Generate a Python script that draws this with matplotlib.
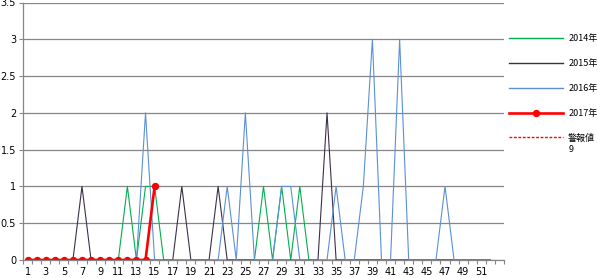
import matplotlib
matplotlib.use("Agg")
import matplotlib.pyplot as plt
from matplotlib.ticker import FixedLocator, FuncFormatter

weeks = list(range(1, 53))
s2014 = [0, 0, 0, 0, 0, 0, 0, 0, 0, 0,
         0, 1, 0, 1, 1, 0, 0, 0, 0, 0,
         0, 0, 0, 0, 0, 0, 1, 0, 1, 0,
         1, 0, 0, 0, 0, 0, 0, 0, 0, 0,
         0, 0, 0, 0, 0, 0, 0, 0, 0, 0,
         0, 0]
s2015 = [0, 0, 0, 0, 0, 0, 1, 0, 0, 0,
         0, 0, 0, 0, 0, 0, 0, 1, 0, 0,
         0, 1, 0, 0, 0, 0, 0, 0, 0, 0,
         0, 0, 0, 2, 0, 0, 0, 0, 0, 0,
         0, 0, 0, 0, 0, 0, 0, 0, 0, 0,
         0, 0]
s2016 = [0, 0, 0, 0, 0, 0, 0, 0, 0, 0,
         0, 0, 0, 2, 0, 0, 0, 0, 0, 0,
         0, 0, 1, 0, 2, 0, 0, 0, 1, 1,
         0, 0, 0, 0, 1, 0, 0, 1, 3, 0,
         0, 3, 0, 0, 0, 0, 1, 0, 0, 0,
         0, 0]
s2017 = [0, 0, 0, 0, 0, 0, 0, 0, 0, 0,
         0, 0, 0, 0, 1]
alarm = [9, 9, 9, 9, 9, 9, 9, 9, 9, 9,
         9, 9, 9, 9, 9, 9, 9, 9, 9, 9,
         9, 9, 9, 9, 9, 9, 9, 9, 9, 9,
         9, 9, 9, 9, 9, 9, 9, 9, 9, 9,
         9, 9, 9, 9, 9, 9, 9, 9, 9, 9,
         9, 9]
labels = ["2014年", "2015年", "2016年", "2017年", "警報値\n9"]
yticks = [0, 0.5, 1, 1.5, 2, 2.5, 3, 3.5]
n_categories = 53

GRID = "#868686"
fig = plt.figure(figsize=(5.97, 2.78), dpi=100)
ax = fig.add_axes([23 / 597, 18 / 278, (504 - 23) / 597, (260 - 2.5) / 278])

idx = [w - 1 for w in weeks]
ax.plot(idx, s2014, color="#00B050", lw=0.8, label=labels[0])
ax.plot(idx, s2015, color="#3B3049", lw=0.8, label=labels[1])
ax.plot(idx, s2016, color="#5B8FD6", lw=0.8, label=labels[2])
ax.plot(idx[:len(s2017)], s2017, color="#FF0000", lw=1.9, marker="o",
        markersize=4.3, label=labels[3])
ax.plot(idx, alarm, color="#FF0000", lw=0.8, ls=(0, (2.0, 1.2)), label=labels[4])

ax.set_xlim(-0.5, n_categories - 0.5)
ax.set_ylim(0, 3.5)
ax.set_yticks(yticks)
ax.yaxis.set_major_formatter(FuncFormatter(lambda v, p: f"{v:g}"))
ax.grid(axis="y", color=GRID, lw=0.9)
ax.set_axisbelow(True)

ax.xaxis.set_major_locator(FixedLocator(list(range(0, 52, 2))))
ax.set_xticklabels([str(i + 1) for i in range(0, 52, 2)])
ax.xaxis.set_minor_locator(FixedLocator([i - 0.5 for i in range(n_categories + 1)]))
ax.tick_params(axis="x", which="major", length=0, labelsize=7, pad=5)
ax.tick_params(axis="x", which="minor", length=3, color=GRID, width=0.8)
ax.tick_params(axis="y", length=3, color=GRID, width=0.8, labelsize=7, pad=2)

for s in ["top", "right"]:
    ax.spines[s].set_visible(False)
for s in ["left", "bottom"]:
    ax.spines[s].set_color(GRID)
    ax.spines[s].set_linewidth(0.9)

leg = fig.legend(loc="upper left", bbox_to_anchor=(509 / 597, 1 - 34 / 278),
                 frameon=False, handlelength=6.0, handletextpad=0.55,
                 labelspacing=1.78, borderpad=0, borderaxespad=0,
                 prop={"family": ["Noto Sans CJK JP", "DejaVu Sans"], "size": 6.5})
handles = leg.get_lines()
for ln in handles[:3]:
    ln.set_linewidth(1.0)
handles[4].set_linewidth(1.0)
try:
    col = leg._legend_handle_box.get_children()[0]
    col.get_children()[-1].align = "top"
except Exception:
    pass

fig.savefig("out.png", dpi=100)
